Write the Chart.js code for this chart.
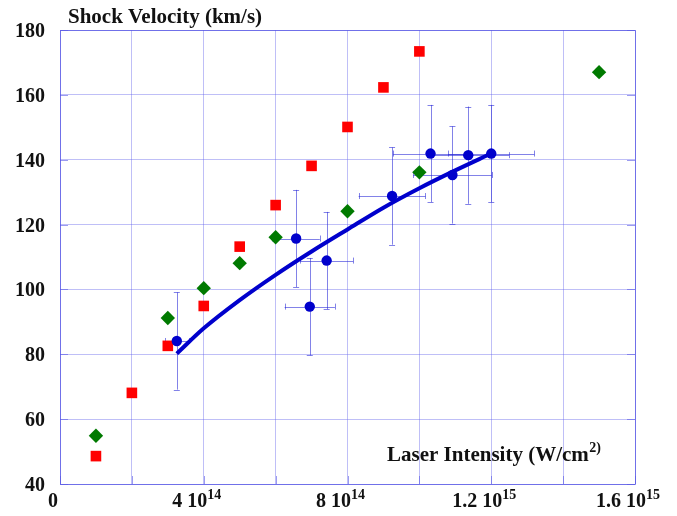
<!DOCTYPE html>
<html>
<head>
<meta charset="utf-8">
<script src="https://cdn.jsdelivr.net/npm/chart.js@4/dist/chart.umd.min.js"></script>
<style>
  html, body { margin: 0; padding: 0; background: #ffffff; }
  #wrap { width: 677px; height: 516px; position: relative; }
</style>
</head>
<body>
<div id="wrap"><canvas id="chart" width="677" height="516"></canvas></div>
<script>
// Shock velocity versus laser intensity

// Simulation series A (red squares)
const redIntensity = [1e14, 2e14, 3e14, 4e14, 5e14, 6e14, 7e14, 8e14, 9e14, 1e15];
const redVelocity  = [48.6, 68.1, 82.6, 94.9, 113.2, 126.0, 138.1, 150.1, 162.3, 173.4];

// Simulation series B (green diamonds)
const greenIntensity = [1e14, 3e14, 4e14, 5e14, 6e14, 8e14, 1e15, 1.5e15];
const greenVelocity  = [54.9, 91.2, 100.4, 108.1, 116.1, 124.1, 136.1, 167.0];

// Measurements (blue circles) with their uncertainties
const measIntensity = [3.25e14, 6.57e14, 6.95e14, 7.42e14, 9.24e14, 10.31e14, 10.92e14, 11.36e14, 12.0e14];
const measVelocity  = [84.1, 115.7, 94.7, 108.9, 128.8, 141.9, 135.3, 141.4, 141.9];
const measIntensityErr = [0.33e14, 0.66e14, 0.70e14, 0.74e14, 0.93e14, 1.04e14, 1.09e14, 1.14e14, 1.20e14];
const measVelocityErr  = [15, 15, 15, 15, 15, 15, 15, 15, 15];

// Fitted scaling curve through the measurements
const fitIntensity = [3.25e14, 4e14, 5e14, 6e14, 7e14, 8e14, 9e14, 10e14, 11e14, 12e14];
const fitVelocity  = [80.2, 88.0, 96.7, 104.5, 111.7, 118.5, 125.2, 131.2, 136.7, 141.9];

// Axis ticks
const yTickValues = [40, 60, 80, 100, 120, 140, 160, 180];
const xTickValues = [0, 4e14, 8e14, 1.2e15, 1.6e15];
const xTickMantissa = ['0', '4 10', '8 10', '1.2 10', '1.6 10'];
const xTickExponent = ['', '14', '14', '15', '15'];

const yTitle = 'Shock Velocity (km/s)';
const xTitleMain = 'Laser Intensity (W/cm';
const xTitleSup = '2)';

const pts = (xs, ys) => xs.map((x, i) => ({ x: x, y: ys[i] }));

const SERIF = '"Liberation Serif", "Times New Roman", serif';
const GRID = 'rgba(95, 95, 235, 0.40)';
const FRAME = 'rgba(90, 90, 230, 0.78)';
const TICK = 'rgba(90, 90, 230, 0.60)';
const BLUE = '#0000cc';

// Error bars for the measured points
const errorBars = {
  id: 'errorBars',
  beforeDatasetsDraw(chart) {
    const { ctx, scales: { x, y } } = chart;
    ctx.save();
    ctx.strokeStyle = 'rgba(40, 40, 215, 0.58)';
    ctx.lineWidth = 1;
    const cap = 3;
    measIntensity.forEach((xv, i) => {
      const px = x.getPixelForValue(xv);
      const py = y.getPixelForValue(measVelocity[i]);
      const x0 = x.getPixelForValue(xv - measIntensityErr[i]);
      const x1 = x.getPixelForValue(xv + measIntensityErr[i]);
      const y0 = y.getPixelForValue(measVelocity[i] + measVelocityErr[i]);
      const y1 = y.getPixelForValue(measVelocity[i] - measVelocityErr[i]);
      ctx.beginPath();
      ctx.moveTo(Math.round(px) + 0.5, y0); ctx.lineTo(Math.round(px) + 0.5, y1);
      ctx.moveTo(px - cap, Math.round(y0) + 0.5); ctx.lineTo(px + cap, Math.round(y0) + 0.5);
      ctx.moveTo(px - cap, Math.round(y1) + 0.5); ctx.lineTo(px + cap, Math.round(y1) + 0.5);
      ctx.moveTo(x0, Math.round(py) + 0.5); ctx.lineTo(x1, Math.round(py) + 0.5);
      ctx.moveTo(Math.round(x0) + 0.5, py - cap); ctx.lineTo(Math.round(x0) + 0.5, py + cap);
      ctx.moveTo(Math.round(x1) + 0.5, py - cap); ctx.lineTo(Math.round(x1) + 0.5, py + cap);
      ctx.stroke();
    });
    ctx.restore();
  }
};

// Frame, inward tick marks, tick labels and axis titles
const frameAndText = {
  id: 'frameAndText',
  beforeDatasetsDraw(chart) {
    const { ctx, chartArea: a, scales: { x, y } } = chart;
    ctx.save();
    ctx.lineWidth = 1;
    ctx.strokeStyle = TICK;
    ctx.beginPath();
    const t = 8;
    y.ticks.forEach(tk => {
      const py = Math.round(y.getPixelForValue(tk.value)) + 0.5;
      ctx.moveTo(a.left, py); ctx.lineTo(a.left + t, py);
      ctx.moveTo(a.right - t, py); ctx.lineTo(a.right, py);
    });
    x.ticks.forEach(tk => {
      const px = Math.round(x.getPixelForValue(tk.value)) + 0.5;
      ctx.moveTo(px, a.bottom); ctx.lineTo(px, a.bottom - t);
    });
    ctx.stroke();
    ctx.strokeStyle = FRAME;
    ctx.beginPath();
    ctx.rect(Math.round(a.left) + 0.5, Math.round(a.top) + 0.5,
             Math.round(a.right - a.left), Math.round(a.bottom - a.top));
    ctx.stroke();
    ctx.restore();
  },
  afterDraw(chart) {
    const { ctx, chartArea: a, scales: { x, y } } = chart;
    ctx.save();
    ctx.fillStyle = '#111111';
    ctx.textBaseline = 'alphabetic';

    // y tick labels
    ctx.font = 'bold 20px ' + SERIF;
    ctx.textAlign = 'right';
    yTickValues.forEach(v => {
      ctx.fillText(String(v), a.left - 15, y.getPixelForValue(v) + 7);
    });

    // x tick labels with exponents
    ctx.textAlign = 'left';
    const mainFont = 'bold 20px ' + SERIF;
    const supFont = 'bold 14px ' + SERIF;
    xTickValues.forEach((v, i) => {
      ctx.font = mainFont;
      const wm = ctx.measureText(xTickMantissa[i]).width;
      ctx.font = supFont;
      const ws = xTickExponent[i] ? ctx.measureText(xTickExponent[i]).width : 0;
      const start = x.getPixelForValue(v) - (wm + ws) / 2 - 7;
      const base = a.bottom + 23;
      ctx.font = mainFont;
      ctx.fillText(xTickMantissa[i], start, base);
      if (xTickExponent[i]) {
        ctx.font = supFont;
        ctx.fillText(xTickExponent[i], start + wm, base - 8);
      }
    });

    // axis titles
    ctx.font = 'bold 21px ' + SERIF;
    ctx.fillText(yTitle, 68, 23);
    ctx.font = 'bold 21px ' + SERIF;
    ctx.fillText(xTitleMain, 387, 461);
    const wt = ctx.measureText(xTitleMain).width;
    ctx.font = 'bold 14px ' + SERIF;
    ctx.fillText(xTitleSup, 387 + wt + 0.5, 452);
    ctx.restore();
  }
};

new Chart(document.getElementById('chart'), {
  type: 'scatter',
  data: {
    datasets: [
      {
        label: 'Fit',
        type: 'line',
        data: pts(fitIntensity, fitVelocity),
        borderColor: BLUE,
        borderWidth: 4,
        pointRadius: 0,
        fill: false,
        cubicInterpolationMode: 'monotone',
        order: 2
      },
      {
        label: 'Measured',
        data: pts(measIntensity, measVelocity),
        backgroundColor: BLUE,
        borderColor: BLUE,
        borderWidth: 0,
        pointStyle: 'circle',
        pointRadius: 5.2,
        order: 1
      },
      {
        label: 'Series A',
        data: pts(redIntensity, redVelocity),
        backgroundColor: '#ff0000',
        borderColor: '#ff0000',
        borderWidth: 0,
        pointStyle: 'rect',
        pointRadius: 7.5,
        order: 1
      },
      {
        label: 'Series B',
        data: pts(greenIntensity, greenVelocity),
        backgroundColor: '#007a00',
        borderColor: '#007a00',
        borderWidth: 0,
        pointStyle: 'rectRot',
        pointRadius: 7.2,
        order: 1
      }
    ]
  },
  options: {
    responsive: false,
    animation: false,
    events: [],
    layout: { padding: { top: 30, right: 42, left: 0, bottom: 0 } },
    plugins: { legend: { display: false }, tooltip: { enabled: false }, title: { display: false } },
    scales: {
      x: {
        type: 'linear',
        min: 0,
        max: 1.6e15,
        ticks: { stepSize: 2e14, display: false },
        grid: { color: GRID, lineWidth: 1, drawTicks: false },
        border: { display: false },
        afterFit(scale) { scale.height = 32; }
      },
      y: {
        type: 'linear',
        min: 40,
        max: 180,
        ticks: { stepSize: 20, display: false },
        grid: { color: GRID, lineWidth: 1, drawTicks: false },
        border: { display: false },
        afterFit(scale) { scale.width = 60; }
      }
    }
  },
  plugins: [errorBars, frameAndText]
});
</script>
</body>
</html>
